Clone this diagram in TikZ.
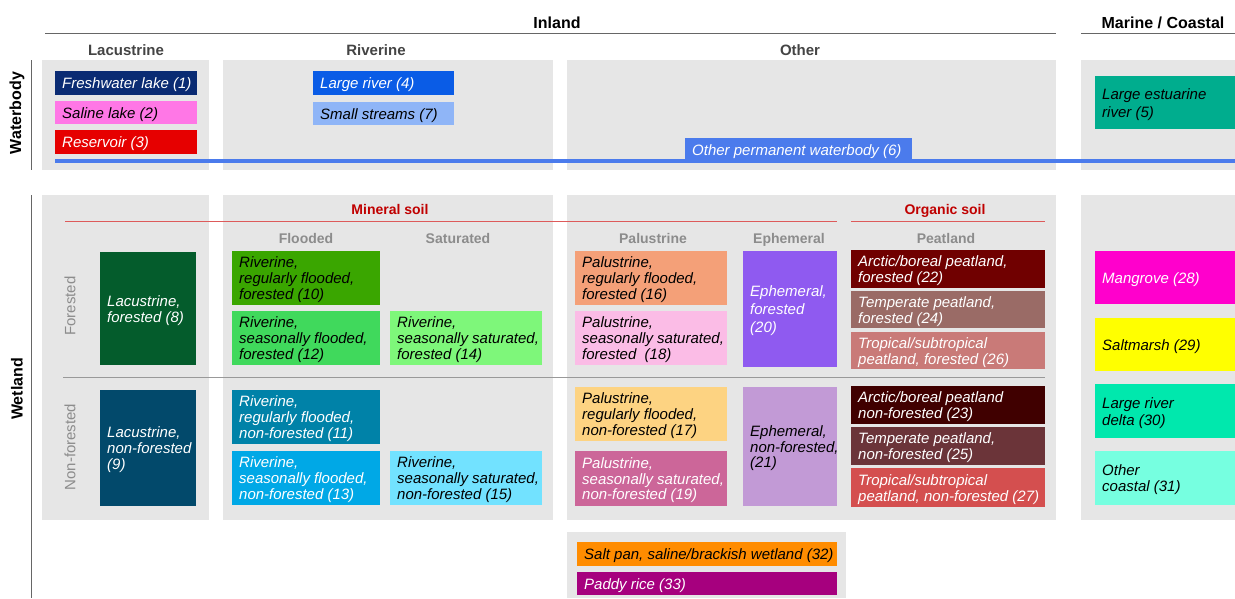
\documentclass[tikz,border=0pt]{standalone}
\usepackage{fontspec}
\setmainfont{Liberation Sans}
\definecolor{panelgray}{HTML}{E6E6E6}
\definecolor{headgray}{HTML}{444444}
\definecolor{subgray}{HTML}{8C8C8C}
\definecolor{soilred}{HTML}{C00000}
\definecolor{soilline}{HTML}{DD5A5A}
\definecolor{c1}{HTML}{0A2B73}
\definecolor{c2}{HTML}{FF77E6}
\definecolor{c3}{HTML}{E60000}
\definecolor{c4}{HTML}{0A5CE6}
\definecolor{c5}{HTML}{00AD8E}
\definecolor{c6}{HTML}{4B7BEC}
\definecolor{c7}{HTML}{8FB5F7}
\definecolor{c8}{HTML}{045C2C}
\definecolor{c9}{HTML}{02496B}
\definecolor{c10}{HTML}{3AA600}
\definecolor{c11}{HTML}{0082A8}
\definecolor{c12}{HTML}{40D95C}
\definecolor{c13}{HTML}{00A8E6}
\definecolor{c14}{HTML}{7EF77A}
\definecolor{c15}{HTML}{72E2FF}
\definecolor{c16}{HTML}{F4A078}
\definecolor{c17}{HTML}{FDD382}
\definecolor{c18}{HTML}{FBBCE6}
\definecolor{c19}{HTML}{CC6699}
\definecolor{c20}{HTML}{8F5AF0}
\definecolor{c21}{HTML}{C29AD6}
\definecolor{c22}{HTML}{700000}
\definecolor{c23}{HTML}{400000}
\definecolor{c24}{HTML}{9A6B66}
\definecolor{c25}{HTML}{6B3439}
\definecolor{c26}{HTML}{C97A78}
\definecolor{c27}{HTML}{D44F4F}
\definecolor{c28}{HTML}{FF00CC}
\definecolor{c29}{HTML}{FFFF00}
\definecolor{c30}{HTML}{00E8AD}
\definecolor{c31}{HTML}{76FFE0}
\definecolor{c32}{HTML}{FF8C00}
\definecolor{c33}{HTML}{A6007E}
\tikzset{
  cellbox/.style={anchor=north west, inner sep=0pt, outer sep=0pt, draw=none},
  celltext/.style={anchor=west, align=left, inner sep=0pt, font=\fontsize{15}{15.7}\selectfont\itshape},
  tophead/.style={anchor=base, font=\fontsize{16}{18}\selectfont\bfseries, text=black, inner sep=0pt},
  colhead/.style={anchor=base, font=\fontsize{15}{17}\selectfont\bfseries, text=headgray, inner sep=0pt},
  subhead/.style={anchor=base, font=\fontsize{14}{16}\selectfont\bfseries, text=subgray, inner sep=0pt},
  soilhead/.style={anchor=base, font=\fontsize{14}{16}\selectfont\bfseries, text=soilred, inner sep=0pt},
  rowhead/.style={font=\fontsize{15}{17}\selectfont, text=subgray, rotate=90, inner sep=0pt},
  sidehead/.style={font=\fontsize{16}{18}\selectfont\bfseries, text=black, rotate=90, inner sep=0pt},
  hline/.style={draw=black!60, line width=1pt},
  soilrule/.style={draw=soilline, line width=1pt},
  divider/.style={draw=black!40, line width=1pt},
}
\newcommand{\wcell}[8]{%
  \node[cellbox, fill=#5, minimum width=#3pt, minimum height=#4pt] (#7) at (#1,#2) {};
  \node[celltext, text=#6] (#7t) at ([xshift=7pt, yshift=-1.8pt]#7.west) {#8};}
\begin{document}
\begin{tikzpicture}[x=1pt, y=-1pt]
\useasboundingbox (0,0) rectangle (1235,598);
% panels
\fill[panelgray] (42,60) rectangle (209,170);
\fill[panelgray] (223,60) rectangle (553,170);
\fill[panelgray] (567,60) rectangle (1056,170);
\fill[panelgray] (1081,60) rectangle (1235,170);
\fill[panelgray] (42,195) rectangle (209,520);
\fill[panelgray] (223,195) rectangle (553,520);
\fill[panelgray] (567,195) rectangle (1056,520);
\fill[panelgray] (1081,195) rectangle (1235,520);
\fill[panelgray] (567,532) rectangle (846,598);
% top headings
\node[tophead] (inland) at (557,28) {Inland};
\node[tophead] (marine) at (1163,28) {Marine / Coastal};
\draw[hline] (45,33.5) -- (1056,33.5);
\draw[hline] (1081,33.5) -- (1235,33.5);
\node[colhead] (lac) at (126,55) {Lacustrine};
\node[colhead] (riv) at (376,55) {Riverine};
\node[colhead] (oth) at (800,55) {Other};
% side headings
\node[sidehead] (wb) at (17,113) {Waterbody};
\draw[hline] (31,60) -- (31,170);
\node[sidehead] (wl) at (17,389) {Wetland};
\draw[hline] (31,195) -- (31,598);
% waterbody cells
\wcell{55}{71}{142}{24}{c1}{white}{n1}{Freshwater lake (1)}
\wcell{55}{101}{142}{23}{c2}{black}{n2}{Saline lake (2)}
\wcell{55}{130}{142}{24}{c3}{white}{n3}{Reservoir (3)}
\wcell{313}{71}{141}{24}{c4}{white}{n4}{Large river (4)}
\wcell{313}{102}{141}{23}{c7}{black}{n7}{Small streams (7)}
\draw[c6, line width=4pt] (55,161) -- (1235,161);
\wcell{685}{138}{227}{24}{c6}{white}{n6}{Other permanent waterbody (6)}
\wcell{1095}{76}{140}{53}{c5}{black}{n5}{Large estuarine\\[2pt]river (5)}
% wetland headings
\node[soilhead] (mineral) at (390,214) {Mineral soil};
\draw[soilrule] (65,221) -- (837,221);
\node[soilhead] (organic) at (945,214) {Organic soil};
\draw[soilrule] (851,221) -- (1045,221);
\node[subhead] (flooded) at (306,243) {Flooded};
\node[subhead] (saturated) at (458,243) {Saturated};
\node[subhead] (palustrine) at (653,243) {Palustrine};
\node[subhead] (ephemeral) at (789,243) {Ephemeral};
\node[subhead] (peatland) at (946,243) {Peatland};
\node[rowhead] (forested) at (70,306) {Forested};
\node[rowhead] (nonforested) at (70,447) {Non-forested};
\draw[divider] (63,377) -- (1045,377);
% wetland cells
\wcell{100}{252}{96}{113}{c8}{white}{n8}{Lacustrine,\\forested (8)}
\wcell{100}{390}{96}{116}{c9}{white}{n9}{Lacustrine,\\non-forested\\(9)}
\wcell{232}{251}{148}{54}{c10}{black}{n10}{Riverine,\\regularly flooded,\\forested (10)}
\wcell{232}{311}{148}{54}{c12}{black}{n12}{Riverine,\\seasonally flooded,\\forested (12)}
\wcell{390}{311}{152}{54}{c14}{black}{n14}{Riverine,\\seasonally saturated,\\forested (14)}
\wcell{232}{390}{148}{54}{c11}{white}{n11}{Riverine,\\regularly flooded,\\non-forested (11)}
\wcell{232}{451}{148}{54}{c13}{white}{n13}{Riverine,\\seasonally flooded,\\non-forested (13)}
\wcell{390}{451}{152}{54}{c15}{black}{n15}{Riverine,\\seasonally saturated,\\non-forested (15)}
\wcell{575}{251}{152}{54}{c16}{black}{n16}{Palustrine,\\regularly flooded,\\forested (16)}
\wcell{575}{311}{152}{54}{c18}{black}{n18}{Palustrine,\\seasonally saturated,\\forested\ \ (18)}
\wcell{743}{251}{94}{116}{c20}{white}{n20}{Ephemeral,\\[2pt]forested\\[2pt](20)}
\wcell{575}{387}{152}{54}{c17}{black}{n17}{Palustrine,\\regularly flooded,\\non-forested (17)}
\wcell{575}{451}{152}{55}{c19}{white}{n19}{Palustrine,\\seasonally saturated,\\non-forested (19)}
\wcell{743}{387}{94}{119}{c21}{black}{n21}{Ephemeral,\\non-forested,\\(21)}
\wcell{851}{250}{194}{38}{c22}{white}{n22}{Arctic/boreal peatland,\\forested (22)}
\wcell{851}{291}{194}{37}{c24}{white}{n24}{Temperate peatland,\\forested (24)}
\wcell{851}{332}{194}{37}{c26}{white}{n26}{Tropical/subtropical\\peatland, forested (26)}
\wcell{851}{386}{194}{38}{c23}{white}{n23}{Arctic/boreal peatland\\non-forested (23)}
\wcell{851}{427}{194}{38}{c25}{white}{n25}{Temperate peatland,\\non-forested (25)}
\wcell{851}{468}{194}{39}{c27}{white}{n27}{Tropical/subtropical\\peatland, non-forested (27)}
\wcell{1095}{251}{140}{53}{c28}{white}{n28}{Mangrove (28)}
\wcell{1095}{318}{140}{53}{c29}{black}{n29}{Saltmarsh (29)}
\wcell{1095}{384}{140}{54}{c30}{black}{n30}{Large river\\[1pt]delta (30)}
\wcell{1095}{451}{140}{54}{c31}{black}{n31}{Other\\coastal (31)}
\wcell{577}{542}{260}{24}{c32}{black}{n32}{Salt pan, saline/brackish wetland (32)}
\wcell{577}{572}{260}{23}{c33}{white}{n33}{Paddy rice (33)}
\end{tikzpicture}
\end{document}
